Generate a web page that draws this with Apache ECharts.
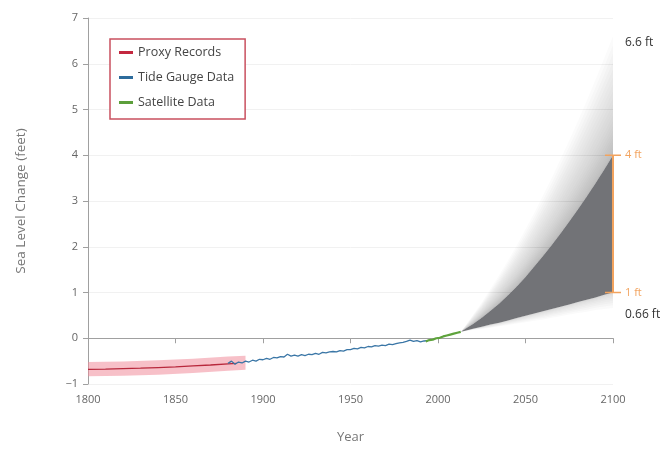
<!DOCTYPE html>
<html>
<head>
<meta charset="utf-8">
<script src="https://cdn.jsdelivr.net/npm/echarts@6/dist/echarts.min.js"></script>
<style>
  html, body { margin: 0; padding: 0; background: #fff; }
  #main { width: 668px; height: 449px; }
</style>
</head>
<body>
<div id="main"></div>
<script>
// proxy records (red line + pink uncertainty band)
var proxyYears = [1800, 1810, 1820, 1830, 1840, 1850, 1860, 1870, 1880, 1885];
var proxyValues = [-0.68, -0.675, -0.665, -0.655, -0.64, -0.625, -0.605, -0.585, -0.56, -0.55];
var proxyBandYears = [1800, 1820, 1840, 1860, 1880, 1890];
var proxyBandLow = [-0.83, -0.82, -0.8, -0.76, -0.71, -0.69];
var proxyBandHigh = [-0.52, -0.51, -0.48, -0.45, -0.4, -0.38];

// tide gauge data
var tideYears = [1880, 1882, 1884, 1886, 1888, 1890, 1892, 1894, 1896, 1898,
  1900, 1902, 1904, 1906, 1908, 1910, 1912, 1914, 1916, 1918,
  1920, 1922, 1924, 1926, 1928, 1930, 1932, 1934, 1936, 1938,
  1940, 1942, 1944, 1946, 1948, 1950, 1952, 1954, 1956, 1958,
  1960, 1962, 1964, 1966, 1968, 1970, 1972, 1974, 1976, 1978,
  1980, 1982, 1984, 1986, 1988, 1990, 1992, 1994];
var tideValues = [-0.55, -0.5, -0.57, -0.52, -0.54, -0.5, -0.52, -0.48, -0.5, -0.46,
  -0.47, -0.44, -0.46, -0.42, -0.43, -0.4, -0.41, -0.35, -0.39, -0.37,
  -0.39, -0.36, -0.38, -0.35, -0.36, -0.33, -0.35, -0.31, -0.32, -0.3,
  -0.29, -0.3, -0.27, -0.28, -0.25, -0.25, -0.22, -0.23, -0.2, -0.21,
  -0.18, -0.19, -0.16, -0.17, -0.15, -0.16, -0.13, -0.14, -0.12, -0.1,
  -0.09, -0.07, -0.04, -0.07, -0.05, -0.08, -0.06, -0.05];

// satellite data
var satYears = [1993, 1995, 1997, 1999, 2001, 2003, 2005, 2007, 2009, 2011, 2013];
var satValues = [-0.07, -0.04, -0.03, 0.0, 0.01, 0.04, 0.06, 0.08, 0.1, 0.12, 0.14];

// projections to 2100
var projYears = [2013, 2015, 2020, 2025, 2030, 2035, 2040, 2045, 2050, 2055,
  2060, 2065, 2070, 2075, 2080, 2085, 2090, 2095, 2100];
var projLow = [0.14, 0.16, 0.21, 0.25, 0.3, 0.34, 0.39, 0.44, 0.49, 0.54,
  0.59, 0.64, 0.69, 0.74, 0.79, 0.84, 0.89, 0.95, 1.0];
var projHigh = [0.14, 0.19, 0.31, 0.45, 0.6, 0.76, 0.94, 1.13, 1.34, 1.57,
  1.8, 2.04, 2.29, 2.55, 2.82, 3.1, 3.39, 3.69, 4.0];
var projExtremeHigh = [0.14, 0.24, 0.51, 0.78, 1.08, 1.38, 1.7, 2.03, 2.38, 2.74,
  3.12, 3.5, 3.91, 4.32, 4.75, 5.19, 5.65, 6.12, 6.6];
var projExtremeLow = [0.14, 0.15, 0.18, 0.2, 0.23, 0.26, 0.29, 0.32, 0.35, 0.38,
  0.41, 0.45, 0.48, 0.52, 0.55, 0.58, 0.62, 0.64, 0.66];

// labels at 2100
var rangeLabels = [
  { value: 6.6, text: "6.6 ft", color: "#333", dy: 6 },
  { value: 4, text: "4 ft", color: "#f2a35e", dy: 0 },
  { value: 1, text: "1 ft", color: "#f2a35e", dy: 0 },
  { value: 0.66, text: "0.66 ft", color: "#333", dy: 7 }
];
var bracketRange = [1, 4];

function polyPoints(api, xs, lo, hi) {
  var pts = [];
  for (var i = 0; i < xs.length; i++) pts.push(api.coord([xs[i], hi[i]]));
  for (var j = xs.length - 1; j >= 0; j--) pts.push(api.coord([xs[j], lo[j]]));
  return pts;
}

function bandSeries(xs, lo, hi, fill, z) {
  return {
    type: "custom",
    z: z,
    silent: true,
    clip: false,
    data: [[xs[0], lo[0]]],
    renderItem: function (params, api) {
      return {
        type: "polygon",
        shape: { points: polyPoints(api, xs, lo, hi) },
        style: { fill: fill }
      };
    }
  };
}

// soft fade between two curves, drawn as stacked translucent layers
// (layers bunch up near the inner curve so the fade drops off quickly)
function fadeSeries(xs, inner, outer, layers, alpha, z) {
  return {
    type: "custom",
    z: z,
    silent: true,
    clip: false,
    data: [[xs[0], inner[0]]],
    renderItem: function (params, api) {
      var children = [];
      for (var k = 1; k <= layers; k++) {
        var f = Math.pow(k / layers, 1.8);
        var edge = inner.map(function (v, i) { return v + (outer[i] - v) * f; });
        children.push({
          type: "polygon",
          shape: { points: polyPoints(api, xs, inner, edge) },
          style: { fill: "rgba(128,128,128," + alpha + ")" }
        });
      }
      return { type: "group", children: children };
    }
  };
}

var myChart = echarts.init(document.getElementById("main"));

var font = "'Open Sans', sans-serif";

var option = {
  animation: false,
  textStyle: { fontFamily: font },
  grid: { left: 88, right: 55, top: 18, bottom: 64 },
  legend: {
    orient: "vertical",
    left: 110,
    top: 39,
    data: ["Proxy Records", "Tide Gauge Data", "Satellite Data"],
    icon: "rect",
    itemWidth: 14,
    itemHeight: 3,
    itemGap: 12,
    itemTextGap: 9,
    padding: [7, 11, 10, 9],
    borderColor: "#c9505f",
    borderWidth: 1.5,
    backgroundColor: "#fff",
    textStyle: { color: "#444", fontSize: 12.5, fontFamily: font }
  },
  xAxis: {
    type: "value",
    min: 1800,
    max: 2100,
    interval: 50,
    name: "Year",
    nameLocation: "middle",
    nameGap: 47,
    nameTextStyle: { color: "#777", fontSize: 13 },
    axisLine: { lineStyle: { color: "#a0a0a0" } },
    axisTick: { length: 5, lineStyle: { color: "#a0a0a0" } },
    axisLabel: { color: "#666", fontSize: 11, margin: 10, formatter: function (v) { return String(v); } },
    splitLine: { show: false }
  },
  yAxis: {
    type: "value",
    min: -1,
    max: 7,
    interval: 1,
    name: "Sea Level Change (feet)",
    nameLocation: "middle",
    nameGap: 60,
    nameTextStyle: { color: "#777", fontSize: 13.5 },
    axisLine: { show: true, lineStyle: { color: "#a0a0a0" } },
    axisTick: { show: true, length: 5, lineStyle: { color: "#a0a0a0" } },
    axisLabel: { color: "#666", fontSize: 11, margin: 10, formatter: function (v) { return String(v).replace("-", "\u2212"); } },
    splitLine: { lineStyle: { color: "#f1f1f1" } }
  },
  series: [
    bandSeries(proxyBandYears, proxyBandLow, proxyBandHigh, "rgba(240,140,155,0.55)", 1),
    fadeSeries(projYears, projHigh, projExtremeHigh, 24, 0.032, 1),
    fadeSeries(projYears, projLow, projExtremeLow, 10, 0.04, 1),
    bandSeries(projYears, projLow, projHigh, "#727377", 2),
    {
      name: "Proxy Records",
      type: "line",
      z: 3,
      symbol: "none",
      itemStyle: { color: "#c3283f" },
      lineStyle: { width: 1.3, color: "#b8283c" },
      data: proxyYears.map(function (y, i) { return [y, proxyValues[i]]; })
    },
    {
      name: "Tide Gauge Data",
      type: "line",
      z: 4,
      symbol: "none",
      itemStyle: { color: "#2d6c9c" },
      lineStyle: { width: 1.3, color: "#3a76a6" },
      data: tideYears.map(function (y, i) { return [y, tideValues[i]]; })
    },
    {
      name: "Satellite Data",
      type: "line",
      z: 5,
      symbol: "none",
      itemStyle: { color: "#5c9f3b" },
      lineStyle: { width: 2.2, color: "#5ea33c" },
      data: satYears.map(function (y, i) { return [y, satValues[i]]; })
    },
    {
      type: "custom",
      z: 6,
      silent: true,
      clip: false,
      data: [[2100, bracketRange[0]]],
      renderItem: function (params, api) {
        var top = api.coord([2100, bracketRange[1]]);
        var bot = api.coord([2100, bracketRange[0]]);
        var orange = "#f2a35e";
        var children = [
          { type: "line", shape: { x1: top[0], y1: top[1], x2: bot[0], y2: bot[1] }, style: { stroke: orange, lineWidth: 2 } },
          { type: "line", shape: { x1: top[0] - 8, y1: top[1], x2: top[0] + 8, y2: top[1] }, style: { stroke: orange, lineWidth: 1.5 } },
          { type: "line", shape: { x1: bot[0] - 8, y1: bot[1], x2: bot[0] + 8, y2: bot[1] }, style: { stroke: orange, lineWidth: 1.5 } }
        ];
        rangeLabels.forEach(function (l) {
          var p = api.coord([2100, l.value]);
          children.push({
            type: "text",
            style: {
              text: l.text,
              x: p[0] + 12,
              y: p[1] + l.dy,
              fill: l.color,
              fontSize: l.color === "#333" ? 12 : 11,
              fontFamily: font,
              align: "left",
              verticalAlign: "middle"
            }
          });
        });
        return { type: "group", children: children };
      }
    }
  ]
};

myChart.setOption(option);
</script>
</body>
</html>
